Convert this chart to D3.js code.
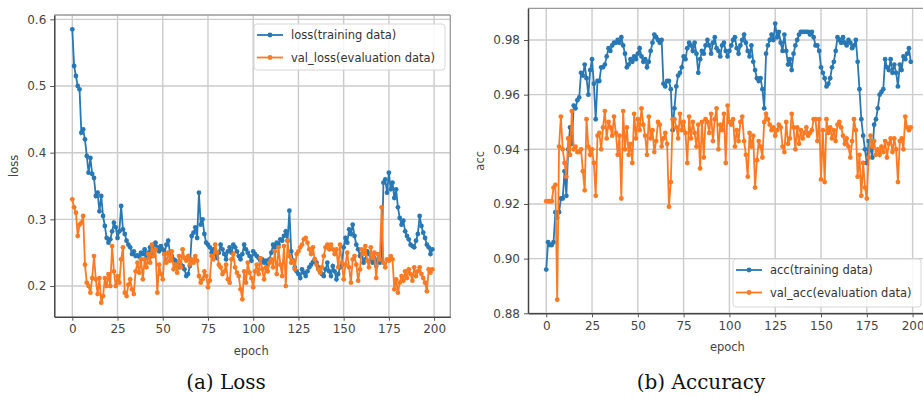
<!DOCTYPE html>
<html>
<head>
<meta charset="utf-8">
<script src="https://cdn.jsdelivr.net/npm/d3@7/dist/d3.min.js"></script>
<style>
  body { margin: 0; background: #fff; }
  svg text { font-family: "DejaVu Sans", sans-serif; }
</style>
</head>
<body>
<svg id="chart" width="923" height="396"></svg>
<script>
// epochs 0..199
const lossTrain = [
  0.585, 0.530, 0.515, 0.500, 0.495, 0.430, 0.435, 0.420, 0.395, 0.370,
  0.392, 0.368, 0.362, 0.335, 0.340, 0.312, 0.335, 0.305, 0.290, 0.272,
  0.265, 0.270, 0.282, 0.295, 0.288, 0.272, 0.282, 0.320, 0.285, 0.278,
  0.268, 0.262, 0.258, 0.248, 0.252, 0.245, 0.246, 0.244, 0.250, 0.248,
  0.255, 0.245, 0.250, 0.258, 0.245, 0.262, 0.265, 0.258, 0.252, 0.260,
  0.255, 0.248, 0.262, 0.268, 0.250, 0.245, 0.240, 0.238, 0.232, 0.228,
  0.232, 0.230, 0.225, 0.215, 0.218, 0.230, 0.275, 0.280, 0.288, 0.272,
  0.340, 0.292, 0.300, 0.278, 0.265, 0.262, 0.258, 0.250, 0.255, 0.248,
  0.242, 0.250, 0.262, 0.255, 0.248, 0.240, 0.252, 0.258, 0.250, 0.262,
  0.258, 0.252, 0.245, 0.240, 0.248, 0.262, 0.255, 0.250, 0.245, 0.238,
  0.252, 0.248, 0.245, 0.242, 0.238, 0.240, 0.235, 0.238, 0.232, 0.240,
  0.250, 0.262, 0.258, 0.265, 0.262, 0.270, 0.268, 0.275, 0.282, 0.268,
  0.313, 0.252, 0.238, 0.228, 0.222, 0.218, 0.212, 0.225, 0.220, 0.215,
  0.222, 0.228, 0.232, 0.236, 0.240, 0.235, 0.228, 0.222, 0.218, 0.215,
  0.225, 0.235, 0.222, 0.215, 0.230, 0.222, 0.210, 0.218, 0.228, 0.232,
  0.258, 0.272, 0.265, 0.285, 0.278, 0.292, 0.275, 0.262, 0.255, 0.245,
  0.248, 0.235, 0.240, 0.252, 0.248, 0.240, 0.235, 0.242, 0.230, 0.238,
  0.235, 0.240, 0.355, 0.360, 0.340, 0.370, 0.345, 0.355, 0.332, 0.345,
  0.318, 0.302, 0.292, 0.298, 0.282, 0.275, 0.270, 0.262, 0.260, 0.258,
  0.268, 0.278, 0.305, 0.290, 0.280, 0.272, 0.262, 0.258, 0.248, 0.255
];
const lossVal = [
  0.330, 0.318, 0.310, 0.275, 0.292, 0.295, 0.305, 0.232, 0.205, 0.200,
  0.190, 0.212, 0.245, 0.210, 0.188, 0.212, 0.175, 0.185, 0.212, 0.200,
  0.218, 0.200, 0.260, 0.222, 0.200, 0.215, 0.205, 0.240, 0.258, 0.190,
  0.185, 0.202, 0.210, 0.195, 0.188, 0.222, 0.235, 0.220, 0.240, 0.210,
  0.240, 0.228, 0.248, 0.235, 0.262, 0.245, 0.255, 0.190, 0.232, 0.218,
  0.210, 0.248, 0.235, 0.250, 0.238, 0.252, 0.225, 0.232, 0.220, 0.245,
  0.228, 0.255, 0.242, 0.238, 0.245, 0.232, 0.240, 0.235, 0.245, 0.238,
  0.215, 0.205, 0.210, 0.222, 0.215, 0.198, 0.208, 0.245, 0.240, 0.262,
  0.250, 0.232, 0.228, 0.218, 0.222, 0.232, 0.210, 0.205, 0.240, 0.248,
  0.228, 0.220, 0.215, 0.195, 0.180, 0.222, 0.205, 0.235, 0.220, 0.212,
  0.198, 0.222, 0.232, 0.218, 0.242, 0.225, 0.210, 0.228, 0.222, 0.235,
  0.240, 0.228, 0.252, 0.218, 0.258, 0.232, 0.215, 0.260, 0.200, 0.268,
  0.245, 0.235, 0.238, 0.225, 0.248, 0.252, 0.258, 0.262, 0.270, 0.272,
  0.265, 0.255, 0.248, 0.258, 0.240, 0.232, 0.225, 0.220, 0.228, 0.245,
  0.258, 0.262, 0.255, 0.262, 0.255, 0.248, 0.255, 0.228, 0.262, 0.235,
  0.210, 0.232, 0.250, 0.228, 0.205, 0.240, 0.245, 0.232, 0.208, 0.225,
  0.255, 0.248, 0.260, 0.238, 0.228, 0.258, 0.242, 0.250, 0.212, 0.248,
  0.240, 0.318, 0.235, 0.228, 0.240, 0.238, 0.245, 0.240, 0.195, 0.210,
  0.190, 0.205, 0.215, 0.208, 0.222, 0.212, 0.225, 0.218, 0.208, 0.228,
  0.215, 0.222, 0.228, 0.218, 0.212, 0.205, 0.192, 0.225, 0.220, 0.225
];
const accTrain = [
  0.896, 0.906, 0.905, 0.905, 0.906, 0.917, 0.915, 0.917, 0.922, 0.922,
  0.932, 0.923, 0.940, 0.948, 0.942, 0.956, 0.955, 0.958, 0.959, 0.968,
  0.967, 0.971, 0.966, 0.960, 0.969, 0.973, 0.964, 0.951, 0.965, 0.965,
  0.970, 0.970, 0.971, 0.974, 0.977, 0.976, 0.978, 0.979, 0.979, 0.980,
  0.979, 0.981, 0.978, 0.975, 0.970, 0.971, 0.973, 0.972, 0.974, 0.973,
  0.975, 0.977, 0.974, 0.972, 0.973, 0.970, 0.972, 0.976, 0.979, 0.982,
  0.981, 0.980, 0.979, 0.980, 0.964, 0.963, 0.965, 0.965, 0.962, 0.947,
  0.955, 0.963, 0.967, 0.968, 0.970, 0.974, 0.973, 0.977, 0.979, 0.978,
  0.976, 0.979, 0.975, 0.968, 0.973, 0.976, 0.975, 0.978, 0.980, 0.978,
  0.975, 0.979, 0.981, 0.977, 0.976, 0.974, 0.978, 0.979, 0.976, 0.974,
  0.976, 0.978, 0.980, 0.981, 0.977, 0.975, 0.978, 0.980, 0.982, 0.979,
  0.976, 0.974, 0.978, 0.972, 0.969, 0.966, 0.965, 0.966, 0.962, 0.955,
  0.975, 0.978, 0.980, 0.982, 0.980, 0.986, 0.981, 0.983, 0.979, 0.976,
  0.982, 0.976, 0.971, 0.973, 0.969, 0.975, 0.978, 0.980, 0.982, 0.983,
  0.983, 0.983, 0.983, 0.983, 0.982, 0.983, 0.981, 0.978, 0.978, 0.976,
  0.970, 0.968, 0.966, 0.963, 0.964, 0.966, 0.970, 0.972, 0.976, 0.981,
  0.980, 0.979, 0.981, 0.979, 0.978, 0.980, 0.979, 0.977, 0.978, 0.980,
  0.972, 0.962, 0.951, 0.945, 0.940, 0.935, 0.943, 0.940, 0.937, 0.949,
  0.951, 0.955, 0.960, 0.961, 0.962, 0.973, 0.970, 0.969, 0.973, 0.968,
  0.971, 0.968, 0.963, 0.971, 0.969, 0.974, 0.973, 0.975, 0.977, 0.972
];
const accVal = [
  0.921, 0.921, 0.921, 0.921, 0.926, 0.927, 0.885, 0.941, 0.952, 0.940,
  0.935, 0.930, 0.944, 0.938, 0.954, 0.940, 0.941, 0.939, 0.939, 0.940,
  0.932, 0.925, 0.951, 0.941, 0.938, 0.940, 0.935, 0.923, 0.945, 0.946,
  0.940, 0.948, 0.954, 0.944, 0.950, 0.948, 0.945, 0.952, 0.946, 0.938,
  0.945, 0.922, 0.954, 0.940, 0.948, 0.938, 0.942, 0.935, 0.953, 0.944,
  0.951, 0.947, 0.955, 0.949, 0.945, 0.938, 0.952, 0.944, 0.947, 0.939,
  0.943, 0.950, 0.949, 0.941, 0.944, 0.946, 0.942, 0.919, 0.928, 0.951,
  0.951, 0.948, 0.944, 0.953, 0.947, 0.950, 0.946, 0.935, 0.952, 0.944,
  0.950, 0.946, 0.941, 0.949, 0.933, 0.950, 0.937, 0.951, 0.950, 0.946,
  0.953, 0.943, 0.951, 0.955, 0.940, 0.949, 0.947, 0.953, 0.935, 0.956,
  0.950, 0.949, 0.951, 0.941, 0.947, 0.943, 0.950, 0.952, 0.943, 0.938,
  0.930, 0.946, 0.941, 0.945, 0.926, 0.936, 0.943, 0.941, 0.937, 0.950,
  0.953, 0.951, 0.949, 0.947, 0.948, 0.945, 0.947, 0.949, 0.948, 0.941,
  0.939, 0.950, 0.942, 0.944, 0.953, 0.948, 0.940, 0.948, 0.942, 0.947,
  0.944, 0.946, 0.948, 0.945, 0.946, 0.947, 0.951, 0.951, 0.943, 0.951,
  0.929, 0.947, 0.928, 0.951, 0.946, 0.948, 0.944, 0.947, 0.943, 0.949,
  0.950, 0.948, 0.945, 0.942, 0.944, 0.941, 0.937, 0.943, 0.951, 0.947,
  0.930, 0.938, 0.923, 0.935, 0.926, 0.922, 0.937, 0.945, 0.941, 0.943,
  0.938, 0.940, 0.938, 0.941, 0.939, 0.943, 0.937, 0.942, 0.944, 0.939,
  0.944, 0.940, 0.928, 0.943, 0.944, 0.940, 0.952, 0.948, 0.947, 0.948
];

const xTicks = [0, 25, 50, 75, 100, 125, 150, 175, 200];
const lossTicks = [0.2, 0.3, 0.4, 0.5, 0.6];
const accTicks = [0.88, 0.90, 0.92, 0.94, 0.96, 0.98];

const BLUE = '#2878b5', ORANGE = '#fb7a22';
const svg = d3.select('#chart');

function drawPanel(cfg) {
  const g = svg.append('g');
  const x = d3.scaleLinear().domain([-9.95, 208.95]).range([cfg.left, cfg.right]);
  const y = d3.scaleLinear().domain(cfg.yDomain).range([cfg.bottom, cfg.top]);

  // grid
  g.append('g').selectAll('line').data(xTicks).enter().append('line')
    .attr('x1', d => x(d)).attr('x2', d => x(d))
    .attr('y1', cfg.top).attr('y2', cfg.bottom)
    .attr('stroke', '#cbcbcb').attr('stroke-width', 1.4);
  g.append('g').selectAll('line').data(cfg.yTicks).enter().append('line')
    .attr('x1', cfg.left).attr('x2', cfg.right)
    .attr('y1', d => y(d)).attr('y2', d => y(d))
    .attr('stroke', '#cbcbcb').attr('stroke-width', 1.4);

  // series
  const line = d3.line().x((d, i) => x(i)).y(d => y(d));
  [[cfg.series[0], BLUE], [cfg.series[1], ORANGE]].forEach(([vals, col]) => {
    g.append('path').datum(vals)
      .attr('d', line).attr('fill', 'none')
      .attr('stroke', col).attr('stroke-width', 1.8);
    g.append('g').selectAll('circle').data(vals).enter().append('circle')
      .attr('cx', (d, i) => x(i)).attr('cy', d => y(d))
      .attr('r', 2.4).attr('fill', col);
  });

  // frame
  g.append('line').attr('x1', cfg.left).attr('x2', cfg.right)
    .attr('y1', cfg.top).attr('y2', cfg.top).attr('stroke', '#999').attr('stroke-width', 1.3);
  g.append('line').attr('x1', cfg.right).attr('x2', cfg.right)
    .attr('y1', cfg.top).attr('y2', cfg.bottom).attr('stroke', '#999').attr('stroke-width', 1.3);

  const xAxis = g.append('g').attr('transform', `translate(0,${cfg.bottom})`)
    .call(d3.axisBottom(x).tickValues(xTicks).tickSizeInner(4).tickSizeOuter(0)
      .tickPadding(4).tickFormat(d3.format('d')));
  const yAxis = g.append('g').attr('transform', `translate(${cfg.left},0)`)
    .call(d3.axisLeft(y).tickValues(cfg.yTicks).tickSizeInner(4).tickSizeOuter(0)
      .tickPadding(4).tickFormat(d3.format(cfg.fmt)));
  [xAxis, yAxis].forEach(a => {
    a.select('.domain').attr('stroke', '#444').attr('stroke-width', 1.5);
    a.selectAll('.tick line').attr('stroke', '#555');
    a.selectAll('.tick text').attr('fill', '#444').style('font-size', '12px')
      .style('font-family', '"DejaVu Sans", sans-serif');
  });

  g.append('text').attr('x', x(100) - 2).attr('y', cfg.bottom + 38)
    .attr('text-anchor', 'middle').attr('fill', '#444').style('font-size', '11.5px')
    .text('epoch');
  g.append('text')
    .attr('transform', `translate(${cfg.ylabX},${(cfg.top + cfg.bottom) / 2}) rotate(-90)`)
    .attr('text-anchor', 'middle').attr('fill', '#444').style('font-size', '11.5px')
    .text(cfg.ylabel);

  // legend
  const L = cfg.legend;
  const lg = g.append('g');
  lg.append('rect').attr('x', L.x).attr('y', L.y).attr('width', L.w).attr('height', L.h)
    .attr('rx', 3).attr('fill', 'rgba(255,255,255,0.85)').attr('stroke', '#d6d6d6');
  cfg.labels.forEach((lab, i) => {
    const col = i === 0 ? BLUE : ORANGE;
    const ly = L.y + 11 + i * 22.5;
    lg.append('line').attr('x1', L.x + 3).attr('x2', L.x + 29)
      .attr('y1', ly).attr('y2', ly).attr('stroke', col).attr('stroke-width', 1.8);
    lg.append('circle').attr('cx', L.x + 16).attr('cy', ly).attr('r', 2.4).attr('fill', col);
    lg.append('text').attr('x', L.x + 37).attr('y', ly + 4).attr('fill', '#333')
      .style('font-size', '11.5px').text(lab);
  });

  svg.append('text').attr('x', cfg.capX).attr('y', 389).attr('text-anchor', 'middle')
    .style('font-family', '"DejaVu Serif", serif').style('font-size', '20px').attr('fill', '#111')
    .text(cfg.caption);
}

drawPanel({
  left: 54.3, right: 450.3, top: 15, bottom: 316.7,
  yDomain: [0.154, 0.6065], yTicks: lossTicks, fmt: '.1f',
  series: [lossTrain, lossVal], ylabel: 'loss', ylabX: 18,
  labels: ['loss(training data)', 'val_loss(evaluation data)'],
  legend: {x: 254, y: 24, w: 191, h: 46},
  caption: '(a) Loss', capX: 226
});

drawPanel({
  left: 528, right: 929, top: 8.3, bottom: 313.3,
  yDomain: [0.88, 0.9916], yTicks: accTicks, fmt: '.2f',
  series: [accTrain, accVal], ylabel: 'acc', ylabX: 484,
  labels: ['acc(training data)', 'val_acc(evaluation data)'],
  legend: {x: 733, y: 259, w: 188, h: 48},
  caption: '(b) Accuracy', capX: 701
});
</script>
</body>
</html>
